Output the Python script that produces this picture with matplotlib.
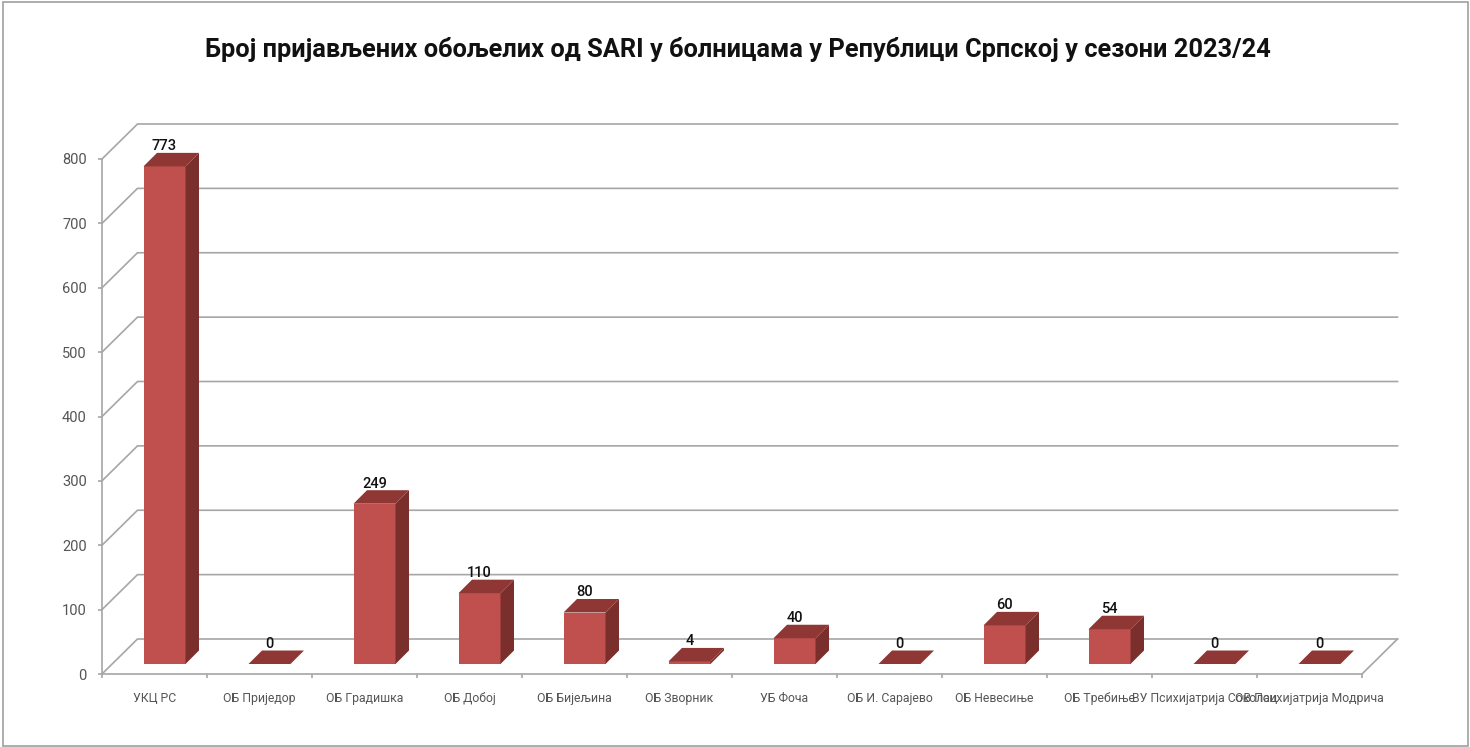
import numpy as np
import matplotlib.pyplot as plt
from matplotlib.patches import Polygon

plt.rcParams['font.family'] = ['Roboto', 'Liberation Sans', 'DejaVu Sans']

# Podaci
bolnice = ['УКЦ РС', 'ОБ Приједор', 'ОБ Градишка', 'ОБ Добој', 'ОБ Бијељина', 'ОБ Зворник',
           'УБ Фоча', 'ОБ И. Сарајево', 'ОБ Невесиње', 'ОБ Требиње',
           'ВУ Психијатрија Соколац', 'ОВ Психијатрија Модрича']
oboljeli = [773, 0, 249, 110, 80, 4, 40, 0, 60, 54, 0, 0]
y_ticks = [0, 100, 200, 300, 400, 500, 600, 700, 800]

W, H = 1470, 747
# prednja ravan ose u pikselima
left, right, y0, y800 = 102, 1362, 674, 159

fig = plt.figure(figsize=(W / 100, H / 100), dpi=100)
ax = fig.add_axes([left / W, 1 - y0 / H, (right - left) / W, (y0 - y800) / H])
ax.set_xlim(0, len(bolnice))
ax.set_ylim(0, 800)
ax.patch.set_visible(False)

px_x = (right - left) / len(bolnice)
px_y = (y0 - y800) / 800

# dubina zida i stubova
wall_dx, wall_dy = 35.5 / px_x, 35 / px_y
bar_dx, bar_dy = 13.5 / px_x, 13.5 / px_y
bar_w = 42 / px_x
floor = 10 / px_y
shift = 10 / px_x

grid = '#a6a6a6'
n = len(bolnice)

# zid i pod
for t in y_ticks:
    ax.plot([0, wall_dx, n + wall_dx], [t, t + wall_dy, t + wall_dy], color=grid, lw=1.2,
            clip_on=False, zorder=1, solid_joinstyle='miter')
ax.plot([n, n + wall_dx], [0, wall_dy], color=grid, lw=1.2, clip_on=False, zorder=1)

# stubovi
for i, v in enumerate(oboljeli):
    c = i + 0.5 + shift
    x1, x2 = c - bar_w / 2, c + bar_w / 2
    top = floor + v
    if v > 0:
        ax.bar(c, v, width=bar_w, bottom=floor, color='#c0504d', zorder=3, clip_on=False)
        ax.add_patch(Polygon([(x2, floor), (x2 + bar_dx, floor + bar_dy), (x2 + bar_dx, top + bar_dy), (x2, top)],
                             closed=True, fc='#7b2f2d', ec='none', zorder=3, clip_on=False))
    ax.add_patch(Polygon([(x1, top), (x2, top), (x2 + bar_dx, top + bar_dy), (x1 + bar_dx, top + bar_dy)],
                         closed=True, fc='#8e3735', ec='none', zorder=3, clip_on=False))
    ax.annotate(str(v), (c, top), xytext=(0, 20 * 0.72), textcoords='offset points', ha='center', va='center',
                fontsize=10.5, fontweight='medium', color='#111111', zorder=5, annotation_clip=False)

# ose
for s in ['top', 'right']:
    ax.spines[s].set_visible(False)
for s in ['left', 'bottom']:
    ax.spines[s].set_color(grid)
    ax.spines[s].set_linewidth(1.2)
ax.set_yticks(y_ticks)
ax.set_xticks(np.arange(n + 1))
ax.set_xticks(np.arange(n) + 0.5, minor=True)
ax.set_xticklabels([])
ax.set_xticklabels(bolnice, minor=True, va='baseline')
ax.tick_params(axis='x', which='major', length=3, color=grid, width=1.2)
ax.tick_params(axis='x', which='minor', length=0, pad=28 * 0.72, labelsize=8.8, labelcolor='#555555')
ax.tick_params(axis='y', length=3, color=grid, width=1.2, pad=8, labelsize=10.5, labelcolor='#555555')
for lab in ax.get_yticklabels():
    lab.set_verticalalignment('center_baseline')

fig.text(738 / W, 1 - 50 / H, 'Број пријављених обољелих од SARI у болницама у Републици Српској у сезони 2023/24',
         ha='center', va='center', fontsize=18.3, fontweight='bold', color='#111111')

# okvir slike
fig.add_artist(plt.Rectangle((3 / W, 1 / H), 1465 / W, 744 / H, transform=fig.transFigure, fill=False,
                             ec='#a0a0a0', lw=1.2))

fig.savefig('out.png', dpi=100)
